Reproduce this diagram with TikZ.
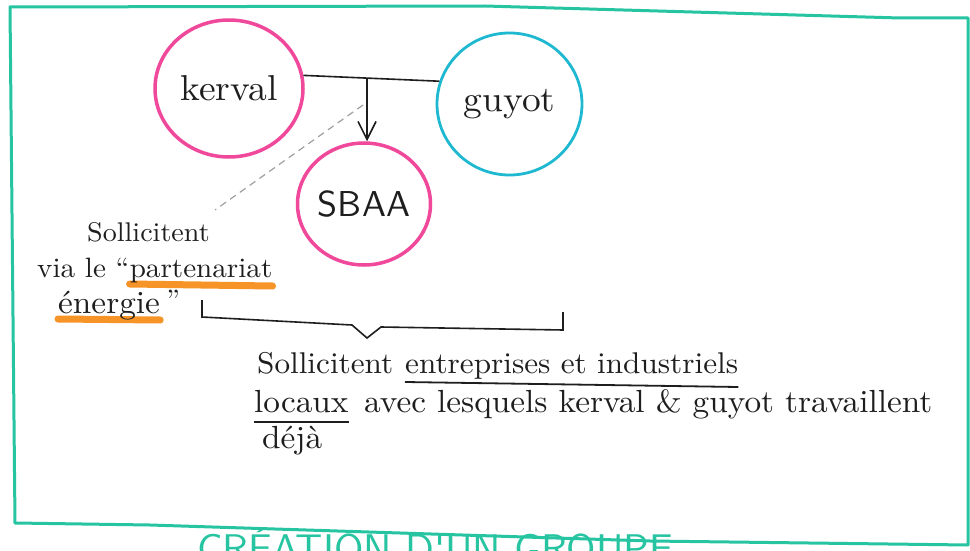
\documentclass[tikz,border=0pt]{standalone}
\usepackage{fontspec}
\newfontfamily\handfont{lmroman10-regular.otf}[FakeStretch=1.04]
\newfontfamily\capsfont{lmsans10-regular.otf}
\usetikzlibrary{shapes.geometric,arrows.meta,backgrounds}
\definecolor{framec}{RGB}{38,196,160}
\definecolor{pinkc}{RGB}{240,72,155}
\definecolor{cyanc}{RGB}{30,185,208}
\definecolor{hlc}{RGB}{247,148,40}
\definecolor{ink}{RGB}{30,30,30}
\begin{document}
\begin{tikzpicture}[x=1pt,y=-1pt,
  bubble/.style={ellipse, line width=3.5pt, inner sep=0pt, text=ink, font=\handfont\fontsize{36}{42}\selectfont},
  hand/.style={inner sep=0pt, text=ink, font=\handfont\fontsize{30}{34}\selectfont},
  link/.style={draw=ink, line width=1.6pt},
  dashlink/.style={draw=gray!75, dash pattern=on 7pt off 5pt, line width=1.2pt},
  hilite/.style={draw=hlc, line width=7pt, line cap=round},
  uline/.style={draw=ink, line width=1.8pt},
  frameline/.style={draw=framec, line width=3pt, line join=round}]
\useasboundingbox (0,0) rectangle (970,551);
\clip (0,0) rectangle (970,551);

% frame
\draw[frameline] (10,7) -- (485,6) -- (900,18) -- (968,18) -- (968,545) -- (650,541) -- (150,525) -- (15,523) -- cycle;
\node[anchor=base west, inner sep=0pt, text=framec, font=\capsfont\fontsize{40}{46}\selectfont] (titre) at (197,562) {CRÉATION D'UN GROUPE};

% bubbles
\node[bubble, draw=pinkc, minimum width=148pt, minimum height=137pt] (kerval) at (229,88.5) {kerval};
\node[bubble, draw=cyanc, line width=2.8pt, minimum width=145pt, minimum height=142pt] (guyot) at (509.5,104) {guyot};
\node[bubble, draw=pinkc, minimum width=133pt, minimum height=122pt, font=\capsfont\fontsize{36}{40}\selectfont] (sbaa) at (364,204) {SBAA};

% connectors
\draw[link] (kerval.10) -- (guyot.162);
\coordinate (fork) at (367,79);
\draw[link, -{Straight Barb[length=18pt,width=18pt,line width=1.6pt]}] (fork) -- (fork |- sbaa.north);

% left annotation
\node[hand, anchor=base west, font=\handfont\fontsize{27}{30}\selectfont] (sol1) at (87,241) {Sollicitent};
\node[hand, anchor=base west, font=\handfont\fontsize{28}{30}\selectfont] (via) at (37,277) {via le “};
\node[hand, anchor=base west, font=\handfont\fontsize{28}{30}\selectfont] (part) at (via.base east) {partenariat};
\node[hand, anchor=base west, font=\handfont\fontsize{32}{34}\selectfont] (ener) at (58,313) {énergie};
\node[hand, anchor=base west, font=\handfont\fontsize{28}{30}\selectfont] (q2) at ([xshift=6pt,yshift=4pt]ener.base east) {”};
\coordinate (dtop) at (363,105);
\coordinate (dend) at (215,210);
\draw[dashlink] (dtop) -- (dend);

\begin{scope}[on background layer]
  \fill[white] (0,0) rectangle (970,551);
  \draw[hilite] ([yshift=-7pt]part.base west) -- ([yshift=-9pt]part.base east);
  \draw[hilite] ([yshift=-6pt]ener.base west) -- ([yshift=-7pt]ener.base east);
\end{scope}

% bracket
\coordinate (b1) at (202,300);
\coordinate (b2) at (202,317);
\coordinate (b3) at (352,325);
\coordinate (btip) at (367,338);
\coordinate (b5) at (381,327);
\coordinate (b6) at (563,330);
\coordinate (b7) at (563,312);
\draw[link, line join=miter] (b1) -- (b2) -- (b3) -- (btip) -- (b5) -- (b6) -- (b7);

% main text
\node[hand, anchor=base west] (s2) at (257,373) {Sollicitent};
\node[hand, anchor=base west] (ent) at (405,373) {entreprises et industriels};
\node[hand, anchor=base west, font=\handfont\fontsize{32}{36}\selectfont] (loc) at (254,412) {locaux};
\node[hand, anchor=base west, font=\handfont\fontsize{32}{36}\selectfont] (rest) at (364,412) {avec lesquels kerval \& guyot travaillent};
\node[hand, anchor=base west, font=\handfont\fontsize{32}{36}\selectfont] (deja) at (262,448) {déjà};
\draw[uline] ([yshift=-9pt]ent.base west) -- ([yshift=-14pt]ent.base east);
\draw[uline] ([yshift=-10pt]loc.base west) -- ([yshift=-10pt]loc.base east);
\end{tikzpicture}
\end{document}
